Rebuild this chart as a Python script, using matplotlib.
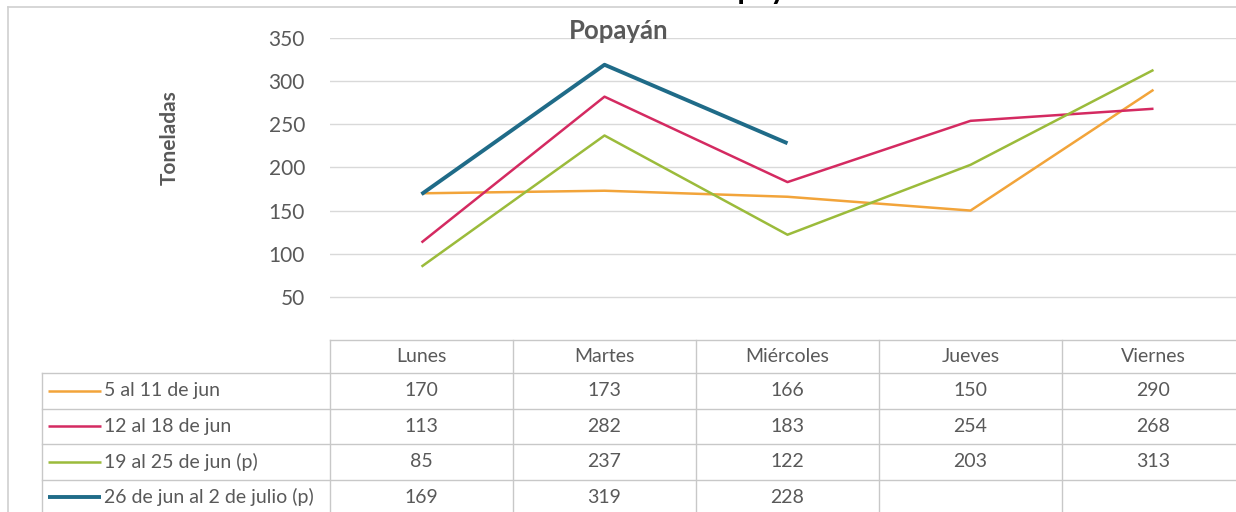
import numpy as np
import matplotlib.pyplot as plt

# datos
dias = ['Lunes', 'Martes', 'Miércoles', 'Jueves', 'Viernes']
series = ['5 al 11 de jun', '12 al 18 de jun', '19 al 25 de jun (p)', '26 de jun al 2 de julio (p)']
s1 = [170, 173, 166, 150, 290]
s2 = [113, 282, 183, 254, 268]
s3 = [85, 237, 122, 203, 313]
s4 = [169, 319, 228]
valores = [s1, s2, s3, s4]
colores = ['#F2A43A', '#D42A61', '#9BBB3B', '#1F6B88']
anchos = [1.8, 1.8, 1.8, 2.8]
yticks = [50, 100, 150, 200, 250, 300, 350]

W, H = 1236, 512
font = 'Lato'
gris = '#595959'
linea = '#D9D9D9'

fig = plt.figure(figsize=(W / 100, H / 100), dpi=100)

# eje principal
x0, x1 = 330, 1245
ytop, ybot = 38, 340
ax = fig.add_axes([x0 / W, 1 - ybot / H, (x1 - x0) / W, (ybot - ytop) / H])
x = np.arange(len(dias))
for v, c, lw in zip(valores, colores, anchos):
    ax.plot(x[:len(v)], v, color=c, lw=lw, solid_capstyle='butt', zorder=3)
ax.set_xlim(-0.5, len(dias) - 0.5)
ax.set_ylim(0, 350)
ax.set_yticks(yticks)
ax.set_yticklabels([str(t) for t in yticks], fontsize=15, color=gris, fontfamily=font)
ax.tick_params(axis='y', length=0, pad=18)
ax.set_xticks([])
ax.grid(axis='y', color=linea, lw=1)
ax.set_axisbelow(True)
for s in ax.spines.values():
    s.set_visible(False)
ax.set_ylabel('Toneladas', fontsize=15, fontweight='bold', color=gris, fontfamily=font, labelpad=0)
ax.yaxis.set_label_coords((180 - x0) / (x1 - x0), (ybot - 138) / (ybot - ytop))
ax.text((619 - x0) / (x1 - x0), (ybot - 31) / (ybot - ytop), 'Popayán', transform=ax.transAxes,
        ha='center', va='center', fontsize=18.5, fontweight='bold', color=gris, fontfamily=font)

# capa en pixeles para tabla y marco
ov = fig.add_axes([0, 0, 1, 1], facecolor='none')
ov.set_xlim(0, W)
ov.set_ylim(H, 0)
ov.axis('off')

# marco del grafico
ov.plot([8, W + 5], [7, 7], color='#D0D0D0', lw=1.2)
ov.plot([8, 8], [7, H + 5], color='#D0D0D0', lw=1.2)

# titulo grande recortado (solo se ven los trazos inferiores)
ov.text(760, -1, 'Popayán', ha='center', va='baseline', fontsize=22, fontweight='bold',
        color='black', fontfamily=font)

# tabla de datos
colw = (x1 - x0) / len(dias)
header_top, header_bot = 340, 373
row_h = 35.5
leg_left = 42
rows_y = [header_bot + i * row_h for i in range(len(series) + 1)]

tc = '#C8C8C8'
ov.plot([x0, W + 5], [header_top, header_top], color=tc, lw=1)
for yy in rows_y:
    ov.plot([leg_left, W + 5], [yy, yy], color=tc, lw=1)
ov.plot([leg_left, leg_left], [header_bot, H + 5], color=tc, lw=1)
for j in range(len(dias) + 1):
    xx = x0 + j * colw
    ov.plot([xx, xx], [header_top, H + 5], color=tc, lw=1)

for j, d in enumerate(dias):
    ov.text(x0 + (j + 0.5) * colw, (header_top + header_bot) / 2, d, ha='center', va='center',
            fontsize=14, color=gris, fontfamily=font)

for i, (nom, v, c, lw) in enumerate(zip(series, valores, colores, anchos)):
    yc = rows_y[i] + row_h / 2
    ov.plot([48, 101], [yc, yc], color=c, lw=lw, solid_capstyle='butt')
    ov.text(104, yc, nom, ha='left', va='center', fontsize=14, color=gris, fontfamily=font)
    for j, val in enumerate(v):
        ov.text(x0 + (j + 0.5) * colw, yc, str(val), ha='center', va='center',
                fontsize=14, color=gris, fontfamily=font)

fig.savefig('out.png', dpi=100, facecolor='white')
